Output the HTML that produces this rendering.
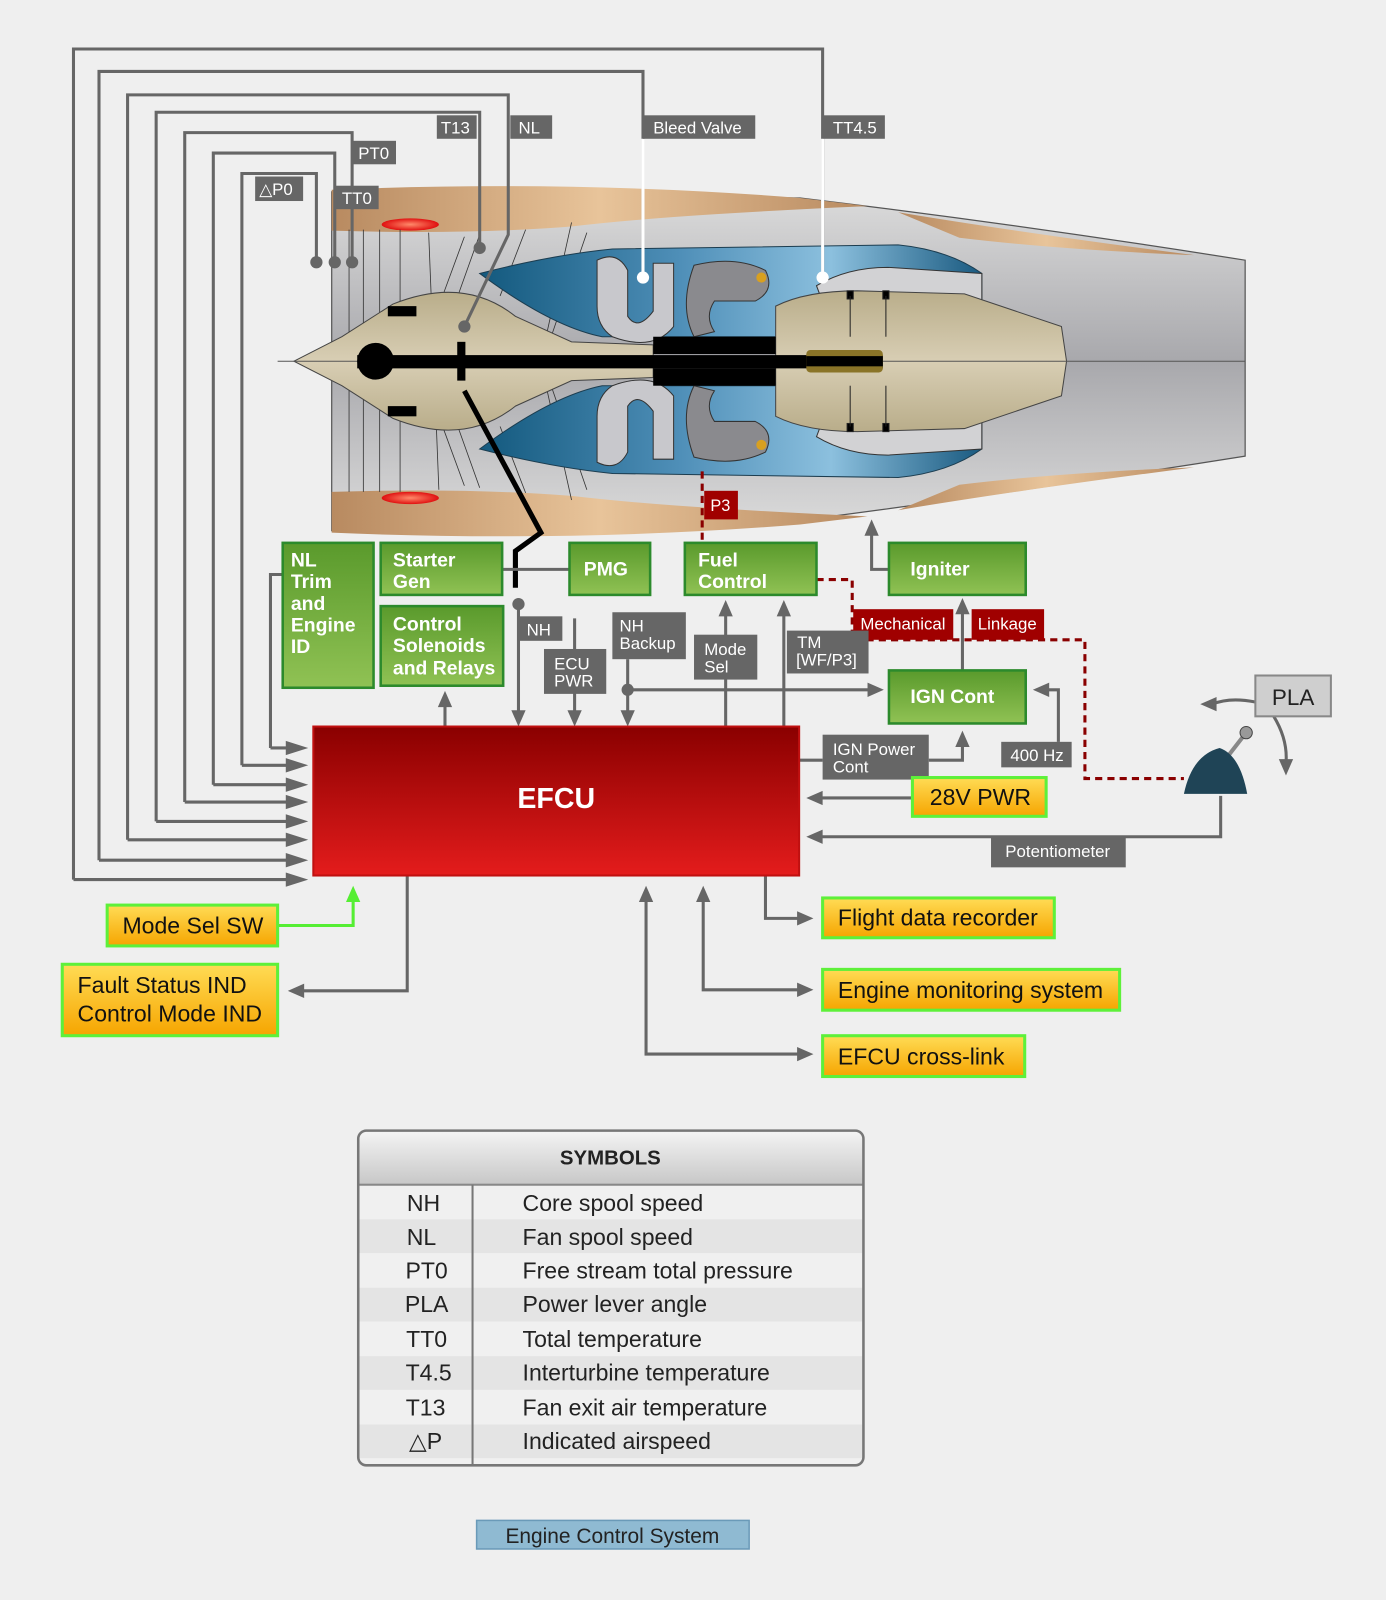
<!DOCTYPE html>
<html><head><meta charset="utf-8"><style>
html,body{margin:0;padding:0;background:#efefef;}
svg{display:block;}
text{font-family:"Liberation Sans",Arial,sans-serif;}
</style></head><body>
<svg width="1386" height="1600" viewBox="0 0 1358 1568" preserveAspectRatio="none" xmlns="http://www.w3.org/2000/svg">
<defs>
<linearGradient id="gr" x1="0" y1="0" x2="0" y2="1"><stop offset="0" stop-color="#5a9a2c"/><stop offset="1" stop-color="#90c254"/></linearGradient>
<linearGradient id="yl" x1="0" y1="0" x2="0" y2="1"><stop offset="0" stop-color="#ffdc55"/><stop offset="1" stop-color="#f6a500"/></linearGradient>
<linearGradient id="rd" x1="0" y1="0" x2="0" y2="1"><stop offset="0" stop-color="#8a0000"/><stop offset="1" stop-color="#e41c1c"/></linearGradient>
<linearGradient id="tan" x1="0" y1="0" x2="1" y2="0"><stop offset="0" stop-color="#b88a60"/><stop offset="0.5" stop-color="#e8c49a"/><stop offset="1" stop-color="#b88a60"/></linearGradient>
<linearGradient id="body" x1="0" y1="0" x2="0" y2="1"><stop offset="0" stop-color="#dcdcdc"/><stop offset="0.5" stop-color="#a8a8ac"/><stop offset="1" stop-color="#dcdcdc"/></linearGradient>
<linearGradient id="blue" x1="0" y1="0" x2="1" y2="0"><stop offset="0" stop-color="#13597e"/><stop offset="0.4" stop-color="#4f8fb8"/><stop offset="0.7" stop-color="#8cc0de"/><stop offset="1" stop-color="#1a5a80"/></linearGradient>
<linearGradient id="core" x1="0" y1="0" x2="0" y2="1"><stop offset="0" stop-color="#b9ad8a"/><stop offset="0.5" stop-color="#d8ceb4"/><stop offset="1" stop-color="#b9ad8a"/></linearGradient>
<linearGradient id="hdr" x1="0" y1="0" x2="0" y2="1"><stop offset="0" stop-color="#f4f4f4"/><stop offset="1" stop-color="#c8c8c8"/></linearGradient>
<radialGradient id="flame"><stop offset="0" stop-color="#ff8a6a"/><stop offset="1" stop-color="#e01010"/></radialGradient>
</defs>
<rect width="1358" height="1568" fill="#efefef"/>

<!-- ENGINE -->
<path d="M325,188 L784,194 Q1000,220 1220,255 L1220,447 Q1000,482 784,510 L325,520 Z" fill="url(#body)" stroke="#555" stroke-width="1.2"/>
<path d="M325,186 Q560,176 784,194 L850,202 Q780,205 700,210 Q620,215 560,222 Q460,230 325,226 Z" fill="url(#tan)"/>
<path d="M325,522 Q560,532 784,514 L850,506 Q780,503 700,498 Q620,493 560,486 Q460,478 325,482 Z" fill="url(#tan)"/>
<path d="M880,208 Q1000,228 1170,250 Q1040,245 940,233 Z" fill="url(#tan)"/>
<path d="M880,500 Q1000,480 1170,458 Q1040,463 940,475 Z" fill="url(#tan)"/>
<ellipse cx="402" cy="220" rx="28" ry="6" fill="url(#flame)"/>
<ellipse cx="402" cy="488" rx="28" ry="6" fill="url(#flame)"/>
<g stroke="#333" stroke-width="0.8" fill="none">
<line x1="342" y1="225" x2="342" y2="482"/><line x1="356" y1="225" x2="356" y2="482"/><line x1="372" y1="225" x2="372" y2="482"/><line x1="392" y1="225" x2="392" y2="482"/>
<line x1="420" y1="228" x2="430" y2="480"/><line x1="455" y1="232" x2="430" y2="300"/><line x1="470" y1="230" x2="445" y2="300"/>
<line x1="455" y1="476" x2="430" y2="408"/><line x1="470" y1="478" x2="445" y2="408"/>
<line x1="515" y1="225" x2="490" y2="290"/><line x1="515" y1="483" x2="490" y2="418"/>
<line x1="560" y1="218" x2="535" y2="330"/><line x1="560" y1="490" x2="535" y2="378"/>
<line x1="575" y1="228" x2="540" y2="330"/><line x1="575" y1="480" x2="540" y2="378"/>
</g>
<path d="M470,268 Q540,250 600,244 L880,240 Q930,245 962,268 L962,300 L880,300 L820,290 Q790,300 760,330 L590,330 Q540,320 470,268 Z" fill="url(#blue)" stroke="#1c3d50" stroke-width="1"/>
<path d="M470,440 Q540,458 600,464 L880,468 Q930,463 962,440 L962,408 L880,408 L820,418 Q790,408 760,378 L590,378 Q540,388 470,440 Z" fill="url(#blue)" stroke="#1c3d50" stroke-width="1"/>
<g fill="#c8c8cc" stroke="#333" stroke-width="1">
<path d="M585,255 Q605,245 615,265 L615,310 Q625,325 640,305 L640,258 L660,258 L660,320 Q640,345 600,330 Q585,320 585,300 Z"/>
<path d="M585,453 Q605,463 615,443 L615,398 Q625,383 640,403 L640,450 L660,450 L660,388 Q640,363 600,378 Q585,388 585,408 Z"/>
<path d="M680,260 Q720,250 750,265 Q760,285 740,295 L700,295 Q690,310 700,325 L680,330 Q665,300 680,260 Z" fill="#8a8a8e"/>
<path d="M680,448 Q720,458 750,443 Q760,423 740,413 L700,413 Q690,398 700,383 L680,378 Q665,408 680,448 Z" fill="#8a8a8e"/>
<path d="M800,280 Q830,262 870,262 L962,268 L962,300 L870,300 Q840,300 815,320 Z" fill="#d2d2d4"/>
<path d="M800,428 Q830,446 870,446 L962,440 L962,408 L870,408 Q840,408 815,388 Z" fill="#d2d2d4"/>
</g>
<circle cx="746" cy="272" r="5" fill="#d8a020"/><circle cx="746" cy="436" r="5" fill="#d8a020"/>
<path d="M288,354 L335,330 L385,298 Q455,270 505,310 L560,335 L640,338 L640,370 L560,373 L505,398 Q455,438 385,410 L335,378 Z" fill="url(#core)" stroke="#444" stroke-width="1"/>
<path d="M760,300 Q790,285 840,285 L945,288 L1040,320 L1045,354 L1040,388 L945,420 L840,423 Q790,423 760,408 Z" fill="url(#core)" stroke="#444" stroke-width="1"/>
<g stroke="#222" stroke-width="1" fill="#000">
<rect x="830" y="285" width="6" height="8"/><rect x="865" y="285" width="6" height="8"/><rect x="830" y="415" width="6" height="8"/><rect x="865" y="415" width="6" height="8"/>
<line x1="833" y1="290" x2="833" y2="330"/><line x1="868" y1="290" x2="868" y2="330"/><line x1="833" y1="378" x2="833" y2="418"/><line x1="868" y1="378" x2="868" y2="418"/>
</g>
<rect x="640" y="330" width="120" height="17" fill="#000"/><rect x="640" y="361" width="120" height="17" fill="#000"/>
<rect x="380" y="300" width="28" height="10" fill="#000"/><rect x="380" y="398" width="28" height="10" fill="#000"/>
<line x1="272" y1="354" x2="1220" y2="354" stroke="#555" stroke-width="1"/>
<rect x="350" y="348" width="515" height="13" fill="#000"/>
<rect x="790" y="343" width="75" height="22" rx="4" fill="#8a7428"/>
<rect x="790" y="349" width="75" height="10" fill="#000"/>
<circle cx="368" cy="354" r="18" fill="#000"/>
<rect x="448" y="335" width="8" height="38" fill="#000"/>

<g stroke="#666" stroke-width="3" fill="none">
<polyline points="72,862 72,48 806,48 806,272"/>
<polyline points="97,843 97,70 630,70 630,272" />
<polyline points="125,823 125,93 498,93 498,230 455,320"/>
<polyline points="153,805 153,110 470,110 470,243"/>
<polyline points="181,786 181,130 345,130 345,257"/>
<polyline points="209,769 209,150 328,150 328,257"/>
<polyline points="237,750 237,170 310,170 310,257"/>
<polyline points="277,563 265,563 265,733"/>
<line x1="72" y1="862" x2="290" y2="862"/><line x1="97" y1="843" x2="290" y2="843"/><line x1="125" y1="823" x2="290" y2="823"/><line x1="153" y1="805" x2="290" y2="805"/><line x1="181" y1="786" x2="290" y2="786"/><line x1="209" y1="769" x2="290" y2="769"/><line x1="237" y1="750" x2="290" y2="750"/><line x1="265" y1="733" x2="290" y2="733"/>
</g>
<g fill="#666">
<path d="M280,855 L302,862 L280,869Z"/><path d="M280,836 L302,843 L280,850Z"/><path d="M280,816 L302,823 L280,830Z"/><path d="M280,798 L302,805 L280,812Z"/><path d="M280,779 L302,786 L280,793Z"/><path d="M280,762 L302,769 L280,776Z"/><path d="M280,743 L302,750 L280,757Z"/><path d="M280,726 L302,733 L280,740Z"/>
<circle cx="310" cy="257" r="6"/><circle cx="328" cy="257" r="6"/><circle cx="345" cy="257" r="6"/><circle cx="470" cy="243" r="6"/><circle cx="455" cy="320" r="6"/>
</g>
<g stroke="#fff" stroke-width="3"><line x1="630" y1="136" x2="630" y2="272"/><line x1="806" y1="136" x2="806" y2="272"/></g>
<circle cx="630" cy="272" r="6" fill="#fff"/><circle cx="806" cy="272" r="6" fill="#fff"/>

<g fill="#666"><rect x="428" y="113" width="39" height="23"/><rect x="500" y="113" width="41" height="23"/><rect x="630" y="113" width="110" height="23"/><rect x="807" y="113" width="60" height="23"/><rect x="346" y="138" width="42" height="23"/><rect x="250" y="173" width="47" height="24"/><rect x="329" y="182" width="42" height="23"/></g>
<g fill="#fff" font-size="16.5"><text x="432" y="131">T13</text><text x="508" y="131">NL</text><text x="640" y="131">Bleed Valve</text><text x="816" y="131">TT4.5</text><text x="351" y="156">PT0</text><text x="254" y="191">△P0</text><text x="335" y="200">TT0</text></g>

<polyline points="455,383 530,522 505,540 505,576" stroke="#000" stroke-width="5" fill="none"/>

<g stroke="#8a0000" stroke-width="3" stroke-dasharray="7,5" fill="none">
<line x1="688" y1="462" x2="688" y2="530"/>
<polyline points="800,568 835,568 835,627 1063,627 1063,763 1160,763"/>
</g>
<rect x="690" y="481" width="33" height="28" fill="#a00000"/><text x="696" y="501" fill="#fff" font-size="16">P3</text>
<rect x="836" y="597" width="98" height="30" fill="#a00000"/><text x="843" y="617" fill="#fff" font-size="16.5">Mechanical</text>
<rect x="952" y="597" width="71" height="30" fill="#a00000"/><text x="958" y="617" fill="#fff" font-size="16.5">Linkage</text>

<g stroke="#666" stroke-width="3" fill="none">
<line x1="492" y1="558" x2="558" y2="558"/>
<line x1="508" y1="592" x2="508" y2="700"/>
<line x1="563" y1="606" x2="563" y2="700"/>
<line x1="615" y1="646" x2="615" y2="700"/>
<line x1="615" y1="676" x2="852" y2="676"/>
<line x1="711" y1="712" x2="711" y2="600"/>
<line x1="768" y1="712" x2="768" y2="600"/>
<line x1="436" y1="712" x2="436" y2="688"/>
<line x1="943" y1="657" x2="943" y2="598"/>
<polyline points="871,558 854,558 854,520"/>
<polyline points="783,745 806,745"/><polyline points="910,745 943,745 943,728"/>
<polyline points="1037,727 1037,676 1022,676"/>
<line x1="894" y1="782" x2="800" y2="782"/>
<polyline points="1196,780 1196,820 800,820"/>
<polyline points="399,858 399,971 292,971"/>
<polyline points="750,858 750,900 787,900"/>
<polyline points="689,878 689,970 787,970"/>
<polyline points="633,878 633,1033 787,1033"/>
<path d="M1230,688 Q1205,683 1188,690"/>
<path d="M1248,702 Q1262,725 1260,748"/>
</g>
<g fill="#666">
<circle cx="508" cy="592" r="6"/><circle cx="615" cy="676" r="6"/>
<path d="M501,696 L508,712 L515,696Z"/><path d="M556,696 L563,712 L570,696Z"/><path d="M608,696 L615,712 L622,696Z"/>
<path d="M850,669 L866,676 L850,683Z"/>
<path d="M704,604 L711,588 L718,604Z"/><path d="M761,604 L768,588 L775,604Z"/><path d="M429,693 L436,677 L443,693Z"/>
<path d="M936,602 L943,586 L950,602Z"/><path d="M847,525 L854,509 L861,525Z"/><path d="M936,732 L943,716 L950,732Z"/>
<path d="M1028,669 L1012,676 L1028,683Z"/>
<path d="M806,775 L790,782 L806,789Z"/><path d="M806,813 L790,820 L806,827Z"/>
<path d="M298,964 L282,971 L298,978Z"/>
<path d="M781,893 L797,900 L781,907Z"/><path d="M781,963 L797,970 L781,977Z"/><path d="M781,1026 L797,1033 L781,1040Z"/>
<path d="M682,884 L689,868 L696,884Z"/><path d="M626,884 L633,868 L640,884Z"/>
<path d="M1192,683 L1176,690 L1192,697Z"/><path d="M1253,744 L1260,760 L1267,744Z"/>
</g>
<polyline points="272,907 346,907 346,880" stroke="#55ee33" stroke-width="3" fill="none"/>
<path d="M339,884 L346,868 L353,884Z" fill="#55ee33"/>

<g fill="#666"><rect x="508" y="604" width="43" height="24"/><rect x="533" y="636" width="61" height="44"/><rect x="600" y="600" width="72" height="46"/><rect x="680" y="622" width="62" height="44"/><rect x="771" y="618" width="80" height="42"/><rect x="806" y="720" width="104" height="44"/><rect x="981" y="727" width="69" height="25"/><rect x="971" y="820" width="132" height="30"/></g>
<g fill="#fff" font-size="16.5"><text x="516" y="623">NH</text><text x="543" y="656">ECU</text><text x="543" y="673">PWR</text><text x="607" y="619">NH</text><text x="607" y="636">Backup</text><text x="690" y="642">Mode</text><text x="690" y="659">Sel</text><text x="781" y="635">TM</text><text x="780" y="652">[WF/P3]</text><text x="816" y="740">IGN Power</text><text x="816" y="757">Cont</text><text x="990" y="746">400 Hz</text><text x="985" y="840">Potentiometer</text></g>
<rect x="1230" y="662" width="74" height="40" fill="#cfcfcf" stroke="#888" stroke-width="2"/><text x="1267" y="691" font-size="22" text-anchor="middle" fill="#222">PLA</text>

<line x1="1200" y1="745" x2="1221" y2="718" stroke="#888" stroke-width="4"/>
<circle cx="1221" cy="718" r="6" fill="#999" stroke="#444"/>
<path d="M1160,778 Q1168,740 1195,733 Q1215,740 1222,778 Z" fill="#1f4456"/>

<g fill="url(#gr)" stroke="#2c8a2c" stroke-width="2.5">
<rect x="277" y="532" width="89" height="142"/><rect x="373" y="532" width="119" height="51"/><rect x="373" y="594" width="120" height="78"/><rect x="558" y="532" width="79" height="51"/><rect x="671" y="532" width="129" height="51"/><rect x="871" y="532" width="134" height="51"/><rect x="871" y="657" width="134" height="52"/>
</g>
<g fill="#fff" font-size="19" font-weight="bold">
<text x="285" y="555">NL</text><text x="285" y="576">Trim</text><text x="285" y="598">and</text><text x="285" y="619">Engine</text><text x="285" y="640">ID</text>
<text x="385" y="555">Starter</text><text x="385" y="576">Gen</text>
<text x="385" y="618">Control</text><text x="385" y="639">Solenoids</text><text x="385" y="661">and Relays</text>
<text x="572" y="564">PMG</text><text x="684" y="555">Fuel</text><text x="684" y="576">Control</text>
<text x="892" y="564">Igniter</text><text x="892" y="689">IGN Cont</text>
</g>

<rect x="307" y="712" width="476" height="146" fill="url(#rd)" stroke="#c01010" stroke-width="2"/>
<text x="545" y="792" fill="#fff" font-size="28" font-weight="bold" text-anchor="middle">EFCU</text>

<g fill="url(#yl)" stroke="#5ef03a" stroke-width="3">
<rect x="894" y="762" width="131" height="38"/><rect x="105" y="887" width="167" height="40"/><rect x="61" y="945" width="211" height="70"/><rect x="806" y="880" width="227" height="39"/><rect x="806" y="950" width="291" height="40"/><rect x="806" y="1015" width="198" height="40"/>
</g>
<g fill="#111" font-size="22.6">
<text x="911" y="789">28V PWR</text><text x="120" y="915">Mode Sel SW</text><text x="76" y="973">Fault Status IND</text><text x="76" y="1001">Control Mode IND</text>
<text x="821" y="907">Flight data recorder</text><text x="821" y="978">Engine monitoring system</text><text x="821" y="1043">EFCU cross-link</text>
</g>

<rect x="351" y="1108" width="495" height="328" rx="8" fill="#f0f0f0"/>
<path d="M359,1108 L838,1108 Q846,1108 846,1116 L846,1160 L351,1160 L351,1116 Q351,1108 359,1108Z" fill="url(#hdr)"/>
<g fill="#e4e4e4"><rect x="352" y="1195" width="493" height="33"/><rect x="352" y="1262" width="493" height="33"/><rect x="352" y="1329" width="493" height="33"/><rect x="352" y="1396" width="493" height="33"/></g>
<line x1="351" y1="1161" x2="846" y2="1161" stroke="#888" stroke-width="2"/>
<line x1="463" y1="1161" x2="463" y2="1436" stroke="#777" stroke-width="2"/>
<rect x="351" y="1108" width="495" height="328" rx="8" fill="none" stroke="#777" stroke-width="2.5"/>
<text x="598" y="1141" font-size="20" font-weight="bold" text-anchor="middle" fill="#222">SYMBOLS</text>
<g font-size="22.6" fill="#222">
<g text-anchor="middle"><text x="415" y="1187">NH</text><text x="413" y="1220">NL</text><text x="418" y="1253">PT0</text><text x="418" y="1286">PLA</text><text x="418" y="1320">TT0</text><text x="420" y="1353">T4.5</text><text x="417" y="1387">T13</text><text x="417" y="1420">△P</text></g>
<text x="512" y="1187">Core spool speed</text><text x="512" y="1220">Fan spool speed</text><text x="512" y="1253">Free stream total pressure</text><text x="512" y="1286">Power lever angle</text><text x="512" y="1320">Total temperature</text><text x="512" y="1353">Interturbine temperature</text><text x="512" y="1387">Fan exit air temperature</text><text x="512" y="1420">Indicated airspeed</text>
</g>
<rect x="467" y="1490" width="267" height="28" fill="#8fbad2" stroke="#6a9ab8" stroke-width="1.5"/>
<text x="600" y="1512" font-size="20.5" text-anchor="middle" fill="#222">Engine Control System</text>
</svg>
</body></html>
